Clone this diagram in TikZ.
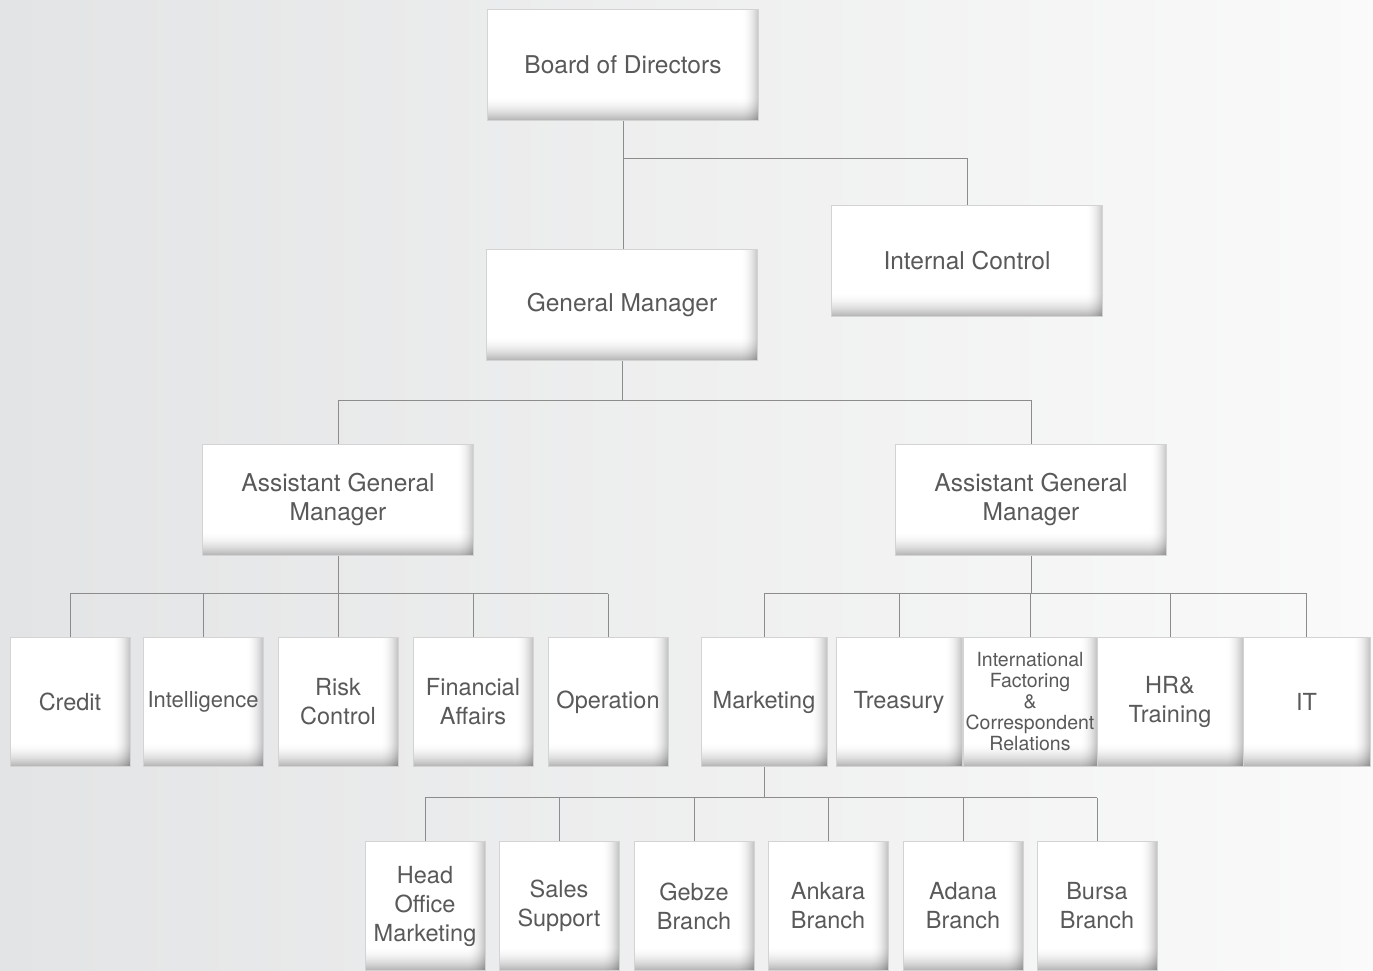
\documentclass[tikz,border=0pt]{standalone}
\usepackage{fontspec}
\setmainfont{TeX Gyre Heros}
\definecolor{bgleft}{HTML}{E3E4E5}
\definecolor{bgright}{HTML}{FAFAFA}
\definecolor{boxline}{HTML}{D3D3D3}
\definecolor{linkgray}{HTML}{8C8C8C}
\definecolor{txtgray}{HTML}{595959}
\tikzset{
  post/.style={rectangle, draw=boxline, line width=0.8pt, fill=white, inner sep=1pt,
    align=center, text=txtgray, font=\fontsize{23.5}{29}\selectfont,
    path picture={
      \foreach \d [evaluate=\d as \op using {0.3*(1-\d/25)^2}] in {0,...,24}{
        \fill[black, fill opacity=\op]
          ([yshift=\d pt]path picture bounding box.south west)
          rectangle ([yshift=\d pt+1pt]path picture bounding box.south east);
      }
      \foreach \d [evaluate=\d as \op using {0.22*(1-\d/17)^2}] in {0,...,16}{
        \fill[black, fill opacity=\op]
          ([xshift=-\d pt]path picture bounding box.north east)
          rectangle ([xshift=-\d pt-1pt]path picture bounding box.south east);
      }
    }},
  top post/.style={post, minimum width=271pt, minimum height=111pt, font=\fontsize{24.5}{29}\selectfont},
  unit post/.style={post, minimum width=120pt, minimum height=129pt},
  small text/.style={font=\fontsize{19.5}{21}\selectfont},
  link/.style={draw=linkgray, line width=0.9pt},
}

\begin{document}
\begin{tikzpicture}[x=1pt, y=-1pt]
  \useasboundingbox (0,0) rectangle (1373,970);
  \clip (0,0) rectangle (1373,970);
  \shade[left color=bgleft, right color=bgright] (0,0) rectangle (1373,970);

  % top levels
  \node[top post] (bod)  at (623,65)   {Board of Directors};
  \node[top post] (gm)   at (622,305)  {General Manager};
  \node[top post] (ic)   at (967,261)  {Internal Control};
  \node[top post] (agml) at (338,500)  {Assistant General\\Manager};
  \node[top post] (agmr) at (1031,500) {Assistant General\\Manager};

  % departments
  \node[unit post] (credit) at (70,702)  {Credit};
  \node[unit post, font=\fontsize{22}{29}\selectfont] (intel) at (203,702) {Intelligence};
  \node[unit post] (risk)   at (338,702) {Risk\\Control};
  \node[unit post] (fin)    at (473,702) {Financial\\Affairs};
  \node[unit post] (op)     at (608,702) {Operation};
  \node[unit post, minimum width=126pt] (mkt)  at (764,702)    {Marketing};
  \node[unit post, minimum width=126pt] (trs)  at (899,702)    {Treasury};
  \node[unit post, minimum width=134pt, small text] (intl) at (1030,702)
    {International\\Factoring\\\&\\Correspondent\\Relations};
  \node[unit post, minimum width=146pt] (hr)   at (1170,702)   {HR\&\\Training};
  \node[unit post, minimum width=127pt] (it)   at (1306.5,702) {IT};

  % branches
  \node[unit post] (hom)    at (425,906)  {Head\\Office\\Marketing};
  \node[unit post] (sales)  at (559,906)  {Sales\\Support};
  \node[unit post] (gebze)  at (694,906)  {Gebze\\Branch};
  \node[unit post] (ankara) at (828,906)  {Ankara\\Branch};
  \node[unit post] (adana)  at (963,906)  {Adana\\Branch};
  \node[unit post] (bursa)  at (1097,906) {Bursa\\Branch};

  % connectors
  \draw[link] (bod.south) -- (bod.south |- gm.north);
  \draw[link] (bod.south) ++(0,38) -| (ic.north);
  \draw[link] (gm.south) -- ++(0,40) coordinate (gmbus);
  \draw[link] (agml.north) |- (gmbus) -| (agmr.north);

  \draw[link] (agml.south) -- ++(0,38) coordinate (lbus);
  \draw[link] (lbus -| credit.north) -- (lbus -| op.north);
  \foreach \u in {credit,intel,risk,fin,op}
    \draw[link] (lbus -| \u.north) -- (\u.north);

  \draw[link] (agmr.south) -- ++(0,38) coordinate (rbus);
  \draw[link] (rbus -| mkt.north) -- (rbus -| it.north);
  \foreach \u in {mkt,trs,intl,hr,it}
    \draw[link] (rbus -| \u.north) -- (\u.north);

  \draw[link] (mkt.south) -- ++(0,31) coordinate (mbus);
  \draw[link] (mbus -| hom.north) -- (mbus -| bursa.north);
  \foreach \u in {hom,sales,gebze,ankara,adana,bursa}
    \draw[link] (mbus -| \u.north) -- (\u.north);
\end{tikzpicture}
\end{document}
